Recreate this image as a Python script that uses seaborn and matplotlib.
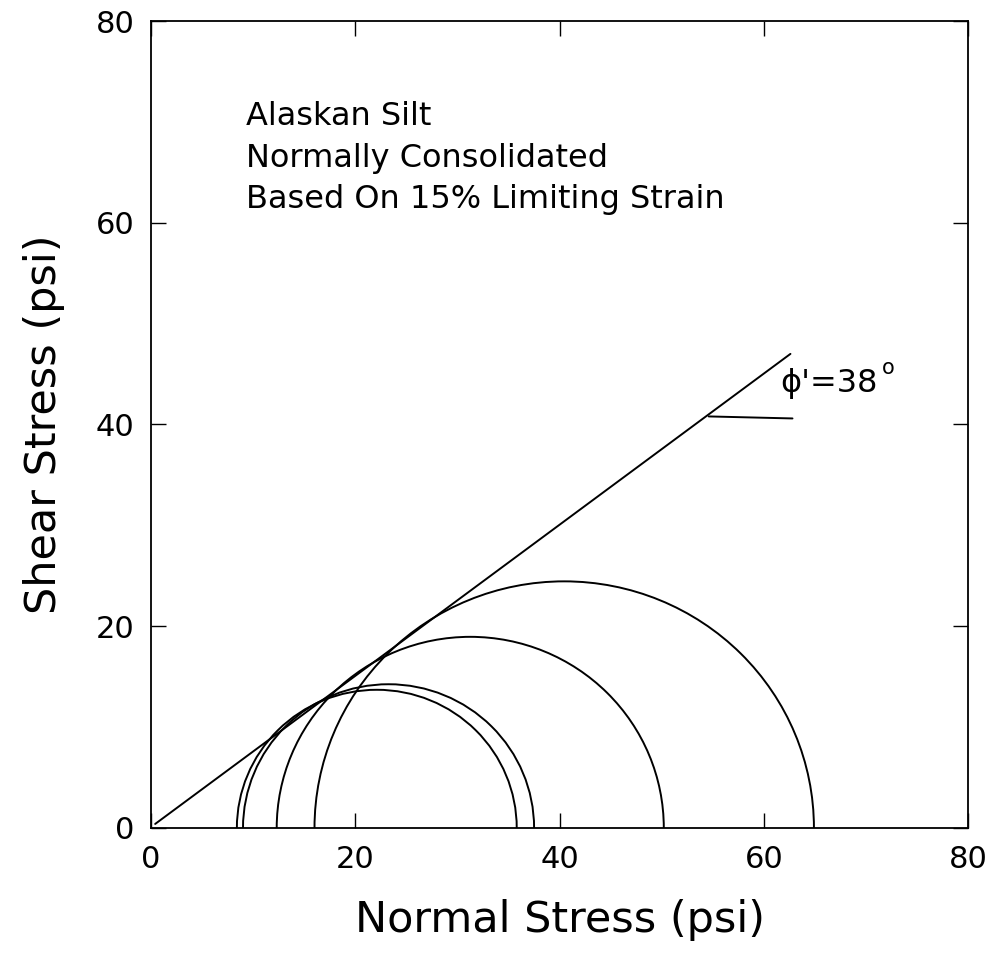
import numpy as np
import pandas as pd
import matplotlib
matplotlib.use("Agg")
import matplotlib.pyplot as plt
from matplotlib.patches import Arc
import seaborn as sns

# Mohr circles (center, radius in psi)
centers = [22.1, 23.25, 31.25, 40.45]
radii = [13.7, 14.25, 18.95, 24.45]

# failure envelope endpoints
env_x = [0.4, 62.6]
env_y = [0.4, 47.0]

# short reference line for the angle label
ref_x = [54.6, 62.8]
ref_y = [40.8, 40.6]

notes = ["Alaskan Silt", "Normally Consolidated", "Based On 15% Limiting Strain"]
ticks = [0, 20, 40, 60, 80]

sns.set_style("ticks")
plt.rcParams["font.family"] = ["DejaVu Sans"]
plt.rcParams["text.color"] = "black"
plt.rcParams["axes.labelcolor"] = "black"
plt.rcParams["xtick.color"] = "black"
plt.rcParams["ytick.color"] = "black"

fig = plt.figure(figsize=(9.94, 9.55), dpi=100)
ax = fig.add_axes([0.152, 0.133, 0.822, 0.845])

lw = 1.4
for c, r in zip(centers, radii):
    ax.add_patch(Arc((c, 0), 2 * r, 2 * r, theta1=0, theta2=180, color="black", lw=lw))

env = pd.DataFrame({"x": env_x, "y": env_y})
sns.lineplot(data=env, x="x", y="y", color="black", lw=lw, ax=ax)
ref = pd.DataFrame({"x": ref_x, "y": ref_y})
sns.lineplot(data=ref, x="x", y="y", color="black", lw=lw, ax=ax)

# angle label with raised degree mark
ax.text(61.6, 44.1, "\u03d5'=38", fontsize=23, va="center", ha="left")
ax.text(71.6, 45.6, "o", fontsize=15, va="center", ha="left")

for i, t in enumerate(notes):
    ax.text(9.3, 70.5 - 4.1 * i, t, fontsize=23, va="center", ha="left")

ax.set_xlim(0, 80)
ax.set_ylim(0, 80)
ax.set_xticks(ticks)
ax.set_yticks(ticks)
ax.tick_params(direction="in", length=11, width=1, labelsize=22, pad=12,
               top=True, right=True)
for s in ax.spines.values():
    s.set_linewidth(1.3)
    s.set_color("black")

ax.set_xlabel("Normal Stress (psi)", fontsize=31, labelpad=18)
ax.set_ylabel("Shear Stress (psi)", fontsize=31, labelpad=22)

fig.savefig("out.png", dpi=100)
